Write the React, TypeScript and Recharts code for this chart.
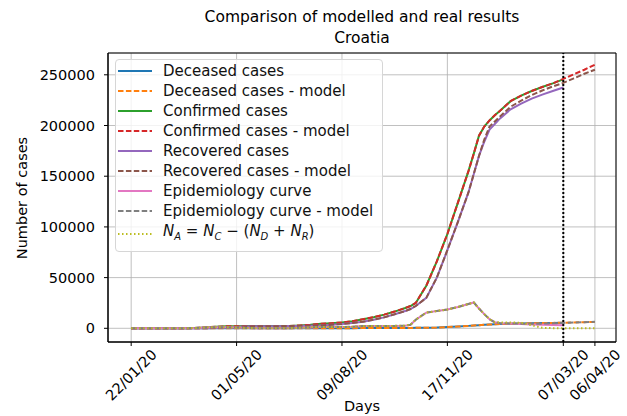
import React from 'react';
import { LineChart, Line, XAxis, YAxis, CartesianGrid, ReferenceLine, ReferenceArea, Legend } from 'recharts';

// days since 22/01/20
const days = [
  0, 10, 20, 30, 40, 50, 60, 70, 80, 90, 100, 110, 120, 130, 140, 150, 160, 170, 180, 190,
  200, 210, 220, 230, 240, 250, 260, 265, 270, 280, 290, 300, 310, 320, 325, 330, 335, 340, 345, 350,
  360, 370, 380, 390, 400, 410, 420, 430, 440,
];

const tickDays = [0, 100, 200, 300, 410, 440];
const tickLabels = ['22/01/20', '01/05/20', '09/08/20', '17/11/20', '07/03/20', '06/04/20'];
const yTicks = [0, 50000, 100000, 150000, 200000, 250000];

// real data stops at 07/03 (day 410), model runs to day 440
const deceased = [
  0, 0, 0, 0, 0, 0, 1, 10, 30, 50, 80, 95, 100, 105, 107, 107, 110, 115, 130, 150,
  170, 180, 200, 220, 260, 300, 360, 400, 450, 550, 750, 1200, 1700, 2400, 2750, 3100, 3400, 3700, 3950, 4150,
  4500, 4750, 4950, 5150, 5350, 5550,
];
const deceasedModel = [
  0, 0, 0, 0, 0, 0, 1, 10, 30, 50, 80, 95, 100, 105, 107, 107, 110, 115, 130, 150,
  170, 180, 200, 220, 260, 300, 360, 400, 450, 550, 750, 1200, 1700, 2400, 2750, 3100, 3400, 3700, 3950, 4150,
  4500, 4750, 4950, 5150, 5350, 5550, 5800, 6050, 6300,
];
const confirmed = [
  0, 0, 0, 0, 10, 50, 300, 900, 1500, 1950, 2080, 2200, 2240, 2250, 2270, 2400, 2850, 3500, 4400, 5000,
  5800, 7000, 9000, 11000, 13500, 16500, 20000, 22000, 25000, 42000, 66000, 93000, 124000, 155000, 172000, 190000, 199000, 205000, 210000, 214500,
  224000, 229500, 234000, 238000, 241500, 245500,
];
const confirmedModel = [
  0, 0, 0, 0, 10, 50, 300, 900, 1500, 1950, 2080, 2200, 2240, 2250, 2270, 2400, 2850, 3500, 4400, 5000,
  5800, 7000, 9000, 11000, 13500, 16500, 20000, 22000, 25000, 42000, 66000, 93000, 124000, 155000, 172000, 190000, 199000, 205000, 210000, 214500,
  224000, 229500, 234000, 238000, 241500, 246000, 250500, 255000, 260000,
];
const recovered = [
  0, 0, 0, 0, 0, 0, 0, 100, 300, 800, 1300, 1800, 2000, 2100, 2150, 2200, 2300, 2500, 2800, 3500,
  4300, 5300, 6500, 8500, 10800, 13800, 17000, 19000, 22000, 30000, 50000, 77000, 105000, 134000, 152000, 170000, 184000, 196000, 201500, 207000,
  216000, 221500, 226500, 230500, 234000, 237500,
];
const recoveredModel = [
  0, 0, 0, 0, 0, 0, 0, 100, 300, 800, 1300, 1800, 2000, 2100, 2150, 2200, 2300, 2500, 2800, 3500,
  4300, 5300, 6500, 8500, 10800, 13800, 17000, 19000, 22000, 30000, 50000, 77000, 105000, 134000, 152000, 170000, 186000, 199000, 204000, 209000,
  218500, 224500, 230000, 234500, 238500, 242000, 246500, 251000, 255000,
];
const epidemic = [
  0, 0, 0, 0, 10, 50, 300, 800, 1150, 1100, 700, 300, 130, 50, 30, 90, 450, 900, 1400, 1350,
  1300, 1500, 2300, 2300, 2400, 2400, 2600, 3500, 8500, 15500, 17000, 18500, 21000, 24000, 25500, 19500, 14000, 9000, 6000, 5000,
  4800, 4300, 3800, 3500, 3200, 3000,
];
const epidemicModel = [
  0, 0, 0, 0, 10, 50, 300, 800, 1150, 1100, 700, 300, 130, 50, 30, 90, 450, 900, 1400, 1350,
  1300, 1500, 2300, 2300, 2400, 2400, 2600, 3500, 8500, 15500, 17000, 18500, 21000, 24000, 25500, 19500, 14000, 9000, 6000, 5000,
  4800, 4600, 4500, 4600, 4900, 5300, 5700, 6000, 6400,
];
const active = [
  0, 0, 0, 0, 10, 50, 300, 800, 1150, 1100, 700, 300, 130, 50, 30, 90, 450, 900, 1400, 1350,
  1300, 1500, 2300, 2300, 2400, 2400, 2600, 3500, 8500, 15500, 17000, 18500, 21000, 24000, 25500, 19500, 14000, 9000, 6000, 5800,
  5800, 5500, 3000, 500, 100, 0, 0, 0, 0,
];

const pick = (arr: number[], i: number) => (i < arr.length ? arr[i] : null);

const data = days.map((day, i) => ({
  day,
  deceased: pick(deceased, i),
  deceasedModel: pick(deceasedModel, i),
  confirmed: pick(confirmed, i),
  confirmedModel: pick(confirmedModel, i),
  recovered: pick(recovered, i),
  recoveredModel: pick(recoveredModel, i),
  epidemic: pick(epidemic, i),
  epidemicModel: pick(epidemicModel, i),
  active: pick(active, i),
}));

const FONT = 'DejaVu Sans, sans-serif';
const DASH = '5.5 2.4';
const DOT = '1.5 2.5';

const series = [
  { key: 'deceased', name: 'Deceased cases', color: '#1f77b4', dash: undefined },
  { key: 'deceasedModel', name: 'Deceased cases - model', color: '#ff7f0e', dash: DASH },
  { key: 'confirmed', name: 'Confirmed cases', color: '#2ca02c', dash: undefined },
  { key: 'confirmedModel', name: 'Confirmed cases - model', color: '#d62728', dash: DASH },
  { key: 'recovered', name: 'Recovered cases', color: '#9467bd', dash: undefined },
  { key: 'recoveredModel', name: 'Recovered cases - model', color: '#8c564b', dash: DASH },
  { key: 'epidemic', name: 'Epidemiology curve', color: '#e377c2', dash: undefined },
  { key: 'epidemicModel', name: 'Epidemiology curve - model', color: '#7f7f7f', dash: DASH },
  { key: 'active', name: 'N_A', color: '#bcbd22', dash: DOT },
];

const XTick = ({ x, payload }: any) => {
  const idx = tickDays.indexOf(payload.value);
  return (
    <text
      transform={`translate(${x},375) rotate(-45)`}
      textAnchor="middle"
      dominantBaseline="central"
      fontSize={14.5}
      fontFamily={FONT}
      fill="#000"
    >
      {tickLabels[idx]}
    </text>
  );
};

const sub = { fontSize: 10, fontStyle: 'italic' } as const;

const MathLabel = () => (
  <span>
    <i>N</i><sub style={sub}>A</sub>
    {' = '}
    <i>N</i><sub style={sub}>C</sub>
    {' \u2212 ('}
    <i>N</i><sub style={sub}>D</sub>
    {' + '}
    <i>N</i><sub style={sub}>R</sub>
    {')'}
  </span>
);

const LegendBox = () => (
  <div
    style={{
      width: 268,
      boxSizing: 'border-box',
      padding: '1px 0 4px 0',
      background: 'rgba(255,255,255,0.8)',
      border: '1px solid #d6d6d6',
      borderRadius: 4,
      fontFamily: FONT,
      fontSize: 15,
      color: '#111',
    }}
  >
    {series.map((s) => (
      <div
        key={s.key}
        style={{ display: 'flex', alignItems: 'center', height: s.key === 'active' ? 26 : 20, lineHeight: '20px' }}
      >
        <svg width={34} height={6} style={{ marginLeft: 2, marginRight: 11, flex: 'none' }}>
          <line x1={0} y1={3} x2={34} y2={3} stroke={s.color} strokeWidth={2} strokeDasharray={s.dash} />
        </svg>
        <span style={{ whiteSpace: 'nowrap' }}>{s.key === 'active' ? <MathLabel /> : s.name}</span>
      </div>
    ))}
  </div>
);

export default function App() {
  return (
    <div style={{ position: 'absolute', left: 0, top: 0, width: 627, height: 416, background: '#fff', fontFamily: FONT }}>
      <div style={{ position: 'absolute', left: 62, width: 600, top: 7, textAlign: 'center', fontSize: 15.5, lineHeight: '21px', color: '#000' }}>
        Comparison of modelled and real results
        <br />
        Croatia
      </div>
      <div style={{ position: 'absolute', left: 312, width: 100, top: 397, textAlign: 'center', fontSize: 14.5, lineHeight: '18px', color: '#000' }}>
        Days
      </div>
      <div
        style={{
          position: 'absolute', left: 22 - 100, top: 198 - 9, width: 200, textAlign: 'center',
          fontSize: 14.5, lineHeight: '18px', color: '#000', transform: 'rotate(-90deg)',
        }}
      >
        Number of cases
      </div>
      <LineChart width={627} height={416} data={data} margin={{ top: 53, right: 11, bottom: 14, left: 48 }}>
        <CartesianGrid stroke="#b0b0b0" strokeWidth={0.8} />
        <XAxis
          dataKey="day"
          type="number"
          domain={[-22, 460]}
          ticks={tickDays}
          tick={<XTick />}
          height={60}
          tickSize={4}
          axisLine={{ stroke: '#000' }}
          tickLine={{ stroke: '#000' }}
          allowDataOverflow
        />
        <YAxis
          type="number"
          domain={[-13500, 271500]}
          ticks={yTicks}
          width={60}
          tickSize={4}
          tickMargin={9}
          tick={{ fontSize: 14.5, fontFamily: FONT, fill: '#000' }}
          axisLine={{ stroke: '#000' }}
          tickLine={{ stroke: '#000' }}
          allowDataOverflow
        />
        <ReferenceArea x1={-22} x2={460} y1={-13500} y2={271500} fill="none" stroke="#000" strokeWidth={1} />
        {series.map((s) => (
          <Line
            key={s.key}
            dataKey={s.key}
            name={s.name}
            type="linear"
            stroke={s.color}
            strokeWidth={2}
            strokeDasharray={s.dash}
            dot={false}
            activeDot={false}
            connectNulls={false}
            isAnimationActive={false}
          />
        ))}
        <ReferenceLine x={410} stroke="#000" strokeWidth={2} strokeDasharray="2 2" />
        <Legend
          layout="vertical"
          align="center"
          verticalAlign="middle"
          content={<LegendBox />}
          wrapperStyle={{ position: 'absolute', left: 115, top: 59, width: 268 }}
        />
      </LineChart>
    </div>
  );
}
